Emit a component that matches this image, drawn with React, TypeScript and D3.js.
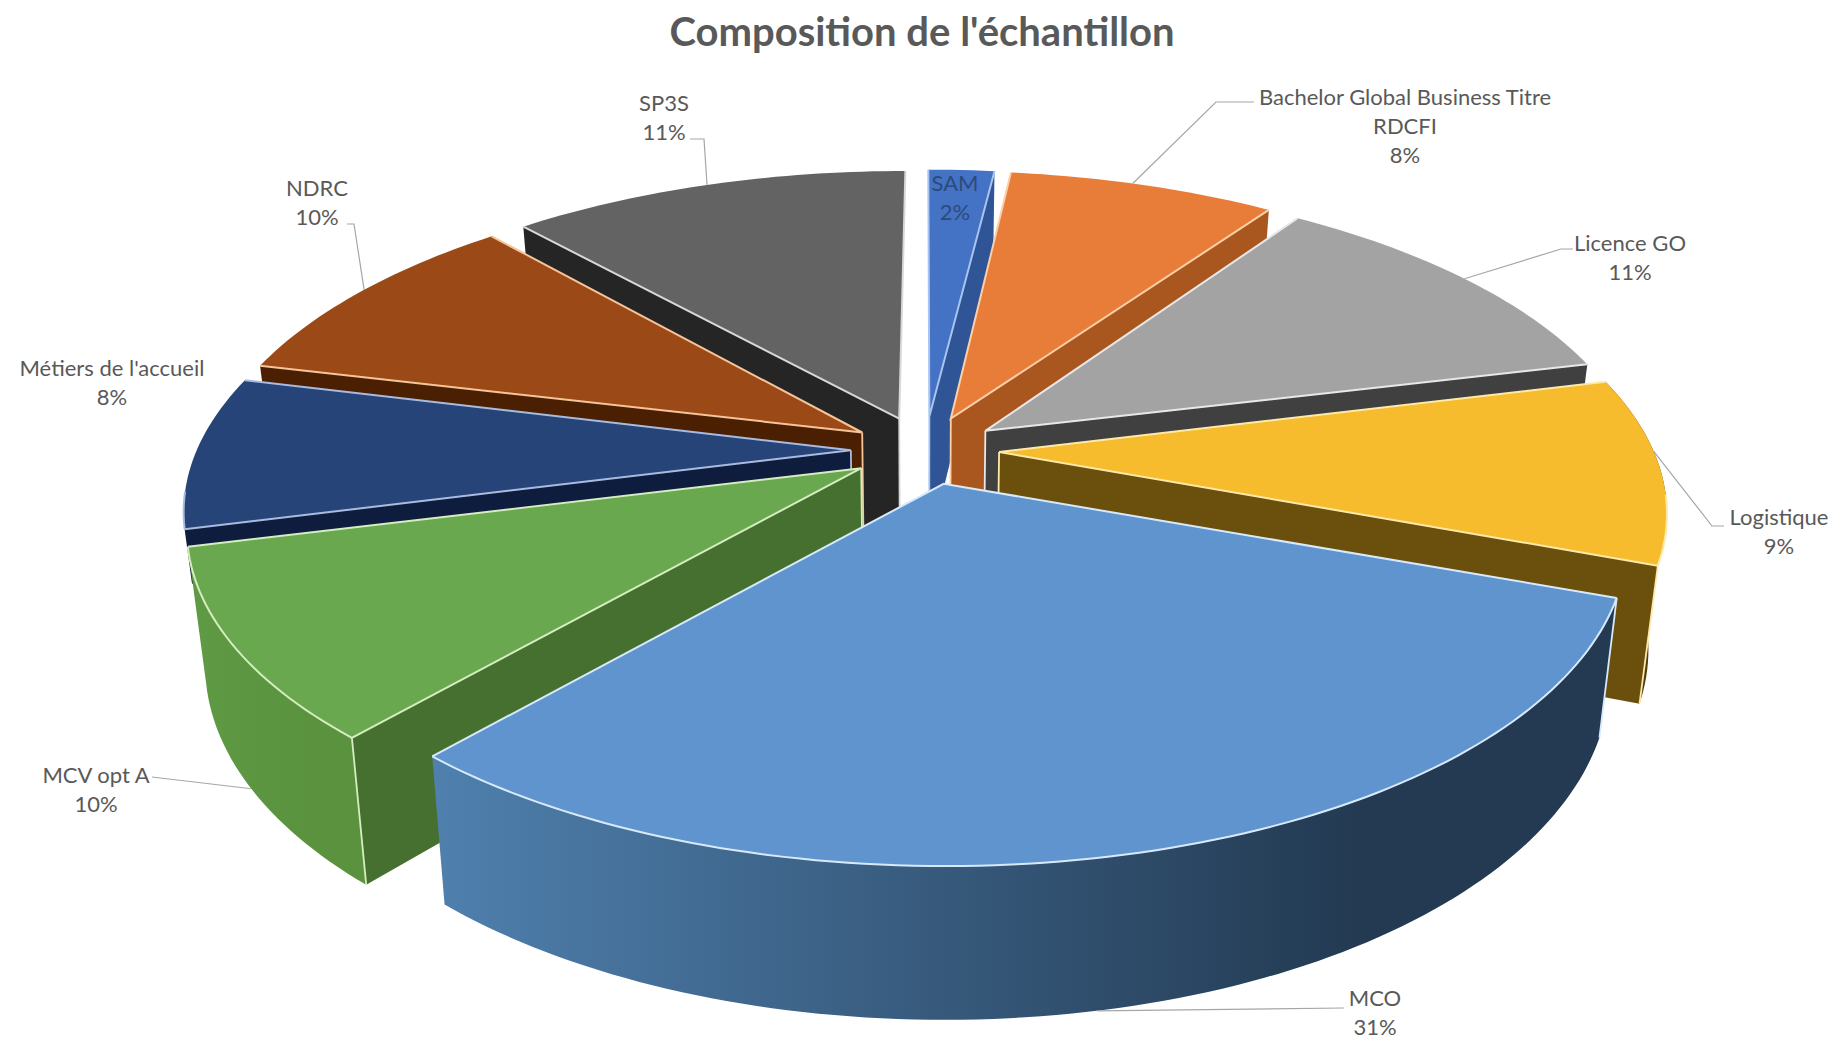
import React from "react";
import * as d3 from "d3";

const TITLE = "Composition de l'échantillon";
const CATEGORIES = ["SAM", "Bachelor Global Business Titre RDCFI", "Licence GO", "Logistique", "MCO", "MCV opt A", "Métiers de l'accueil", "NDRC", "SP3S"];
const VALUES = [1.9, 7.7, 11.49, 9.49, 30.6, 9.6, 7.8, 9.6, 11.49];
const PERCENT_LABELS = ["2%", "8%", "11%", "9%", "31%", "10%", "8%", "10%", "11%"];
const TOP_COLORS = ["#4472c4", "#e87d3a", "#a3a3a3", "#f7bb2e", "#5f94cf", "#69a84f", "#264478", "#9b4a17", "#636363"];
const WALL_COLORS = ["#2f5597", "#a9571f", "#404040", "#6b4f0c", "#3f6a96", "#46702f", "#0e1c3d", "#4a1f02", "#252525"];
const OUTER_LEFT = ["#2f5597", "#a9571f", "#555555", "#6b4f0c", "#4f80ae", "#5f9a44", "#16305c", "#6a3006", "#333333"];
const OUTER_RIGHT = ["#2f5597", "#a9571f", "#555555", "#4a370a", "#233a52", "#5a923e", "#16305c", "#6a3006", "#333333"];
const EDGE_COLORS = ["#a9c4f0", "#fbcfa8", "#e8e8e8", "#fdeaa8", "#d8eafa", "#d5edc0", "#a9bce0", "#f6c49a", "#d8d8d8"];
// how far down each radial wall is drawn (the rest is hidden by the slice in front)
const WALL_DEPTH = [1, 1, 1, 1, 1, 1, 0.4, 1, 1];

const CX = 925, CY = 450, RX = 662, RY = 305, PERSPECTIVE = 0.1786, EXPLODE = 0.1, APEX_EXTRA = 0.012, HEIGHT = 132, LEAN = 0.025;

const xScale = d3.scaleLinear().domain([-1, 1]).range([CX - RX, CX + RX]);
const yScale = d3.scaleLinear().domain([-1, 1]).range([CY - RY, CY + RY]);

type P = [number, number];
const project = (u: number, v: number, z: number): P => {
  const s = 1 / (1 - PERSPECTIVE * v);
  const k = 1 - LEAN * z;
  return [xScale(u * s * k), yScale(v * s * k) + z * HEIGHT * s];
};

const pie = d3.pie<number>().sort(null).startAngle(0).endAngle(2 * Math.PI);
const arcs = pie(VALUES);
const line = d3.line<P>();

const pt = (a: typeof arcs[number], r: number, t: number, z: number): P => {
  const mid = (a.startAngle + a.endAngle) / 2;
  const e = EXPLODE + APEX_EXTRA * (1 - r);
  const u = e * Math.sin(mid) + r * Math.sin(t);
  const v = -e * Math.cos(mid) - r * Math.cos(t);
  return project(u, v, z);
};
const rim = (a: typeof arcs[number], z: number): P[] => {
  const n = Math.max(6, Math.ceil((a.endAngle - a.startAngle) / 0.02));
  return d3.range(n + 1).map((i) => pt(a, 1, a.startAngle + ((a.endAngle - a.startAngle) * i) / n, z));
};

// label anchors: text centre x, first-line centre y
const LABEL_LINES = [["SAM", "2%"], ["Bachelor Global Business Titre", "RDCFI", "8%"], ["Licence GO", "11%"], ["Logistique", "9%"], ["MCO", "31%"], ["MCV opt A", "10%"], ["Métiers de l'accueil", "8%"], ["NDRC", "10%"], ["SP3S", "11%"]];
const LABEL_X = [955, 1405, 1630, 1779, 1375, 96, 112, 317, 664];
const LABEL_Y = [182, 96, 242, 516, 997, 774, 367, 187, 102];
const LABEL_COLOR = ["#2c4a7c", "#595959", "#595959", "#595959", "#595959", "#595959", "#595959", "#595959", "#595959"];
// leader lines: position along the rim, face level, then elbow and end
const LEADER_FRAC = [null, 0.46, 0.5, 0.4, 0.53, 0.5, null, 0.52, 0.5];
const LEADER_Z = [0, 0, 0, 0, 1, 1, 0, 0, 0];
const LEADER_ELBOWS: (P[] | null)[] = [null, [[1216, 102], [1254, 102]], [[1561, 249], [1573, 249]], [[1712, 526], [1724, 526]], [[1344, 1008]], [[152, 777]], null, [[354, 224], [347, 224]], [[704, 139], [690, 139]]];

const DRAW_ORDER = d3.range(VALUES.length).sort((a, b) => {
  const d = (i: number) => -Math.cos((arcs[i].startAngle + arcs[i].endAngle) / 2);
  return d(a) - d(b);
});

const FONT = "Lato, 'Open Sans', sans-serif";

export default function App() {
  return (
    <svg width={1833} height={1040} style={{ position: "absolute", left: 0, top: 0, background: "#fff" }} fontFamily={FONT}>
      <defs>
        {arcs.map((a, i) => {
          const xs = rim(a, 0).map((p) => p[0]);
          return (
            <linearGradient key={i} id={`outer${i}`} gradientUnits="userSpaceOnUse" x1={d3.min(xs)} x2={d3.max(xs)} y1={0} y2={0}>
              <stop offset="0" stopColor={OUTER_LEFT[i]} />
              <stop offset="0.78" stopColor={OUTER_RIGHT[i]} />
              <stop offset="1" stopColor={OUTER_RIGHT[i]} />
            </linearGradient>
          );
        })}
      </defs>
      <text x={922} y={31} textAnchor="middle" dominantBaseline="central" fontSize={40} fontWeight={700} fill="#595959">{TITLE}</text>
      {DRAW_ORDER.map((i) => {
        const a = arcs[i];
        const topRim = rim(a, 0);
        const botRim = rim(a, 1);
        const apexT = pt(a, 0, 0, 0);
        const depth = WALL_DEPTH[i];
        const apexB = pt(a, 0, 0, depth);
        const mid = (a.startAngle + a.endAngle) / 2;
        const isFront = a.endAngle - a.startAngle > 1.5;
        const right = mid < Math.PI;
        const showOuter = -Math.cos(mid) > 0.02;
        const wallAngle = right ? a.endAngle : a.startAngle;
        const wallIdx = right ? topRim.length - 1 : 0;
        const cornerT = topRim[wallIdx];
        const cornerB = pt(a, 1, wallAngle, depth);
        const lead = isFront ? null : [apexT, cornerT, cornerB, apexB];
        const frontArc = topRim.filter((_, j) => {
          const t = a.startAngle + ((a.endAngle - a.startAngle) * j) / (topRim.length - 1);
          return -Math.cos(t) > 0.12;
        });
        return (
          <g key={i}>
            {showOuter && <path d={line([...topRim, ...[...botRim].reverse()]) + "Z"} fill={`url(#outer${i})`} />}
            {lead && <path d={line(lead) + "Z"} fill={WALL_COLORS[i]} />}
            {lead && <path d={line([apexT, apexB])!} stroke={EDGE_COLORS[i]} strokeWidth={1.8} fill="none" />}
            {lead && showOuter && <path d={line([cornerT, cornerB])!} stroke={EDGE_COLORS[i]} strokeWidth={1.8} fill="none" />}
            {isFront && <path d={line([topRim[0], botRim[0]])!} stroke={EDGE_COLORS[i]} strokeWidth={1.8} fill="none" />}
            <path d={line([apexT, ...topRim]) + "Z"} fill={TOP_COLORS[i]} />
            <path d={line([topRim[0], apexT, topRim[topRim.length - 1]])!} stroke={EDGE_COLORS[i]} strokeWidth={2} fill="none" />
            {frontArc.length > 1 && <path d={line(frontArc)!} stroke={EDGE_COLORS[i]} strokeWidth={2} fill="none" />}
          </g>
        );
      })}
      {arcs.map((a, i) => {
        const f = LEADER_FRAC[i];
        const el = LEADER_ELBOWS[i];
        if (f === null || !el) return null;
        const start = pt(a, 1, a.startAngle + (a.endAngle - a.startAngle) * f, LEADER_Z[i]);
        return <path key={i} d={line([start, ...el])!} fill="none" stroke="#a6a6a6" strokeWidth={1.2} />;
      })}
      {LABEL_LINES.map((lines, i) =>
        lines.map((t, j) => (
          <text key={`${i}-${j}`} x={LABEL_X[i]} y={LABEL_Y[i] + j * 29} textAnchor="middle" dominantBaseline="central" fontSize={22} fill={LABEL_COLOR[i]}>{t}</text>
        ))
      )}
    </svg>
  );
}
